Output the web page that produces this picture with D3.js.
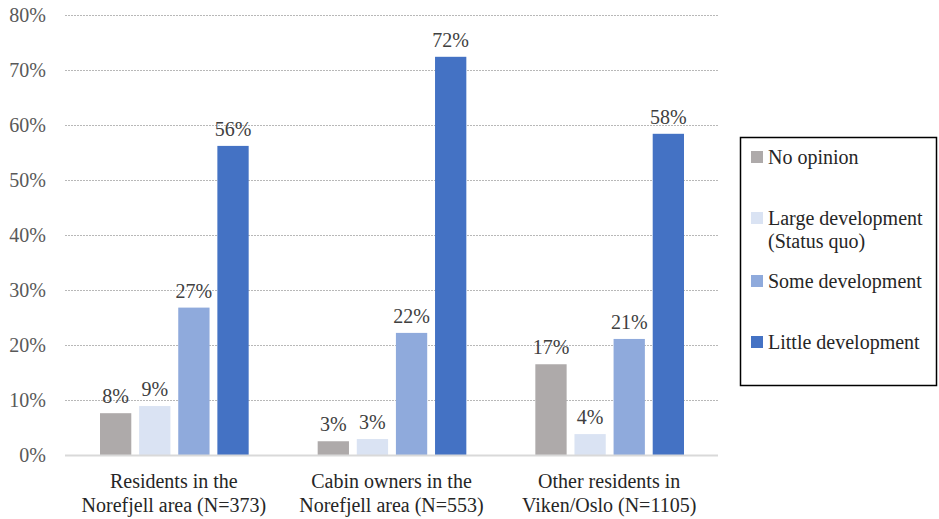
<!DOCTYPE html>
<html>
<head>
<meta charset="utf-8">
<script src="https://cdn.jsdelivr.net/npm/d3@7"></script>
<style>
  body { margin: 0; background: #fff; }
  svg text { font-family: "Liberation Serif", serif !important; }
</style>
</head>
<body>
<div id="chart"></div>
<script>

// categories (two lines each)
const groups = [
    ["Residents in the", "Norefjell area (N=373)"],
    ["Cabin owners in the", "Norefjell area (N=553)"],
    ["Other residents in", "Viken/Oslo (N=1105)"]
];
const seriesNames = ["No opinion", "Large development (Status quo)", "Some development", "Little development"];
const seriesColors = ["#aeaaaa", "#dae3f3", "#8faadc", "#4472c4"];

// values in percent, one array per series
const noOpinion = [7.6, 2.5, 16.5];
const largeDev = [8.9, 2.9, 3.8];
const someDev = [26.8, 22.2, 21.1];
const littleDev = [56.2, 72.4, 58.4];

const yTicks = [0, 10, 20, 30, 40, 50, 60, 70, 80];

const width = 939, height = 519;
const margin = {top: 15, right: 221, bottom: 64, left: 65};
const fontFam = "'Liberation Serif', serif";

const svg = d3.select("#chart").append("svg")
    .attr("width", width)
    .attr("height", height);

// helper so every label gets the serif face inline
function serif(sel) {
    return sel
        .attr("font-family", "Liberation Serif")
        .style("font-family", fontFam, "important")
        .style("font-size", "20px");
}

// scales
const x0 = d3.scaleBand()
    .domain(d3.range(groups.length))
    .range([margin.left, width - margin.right])
    .paddingInner(0)
    .paddingOuter(0);

const x1 = d3.scaleBand()
    .domain(d3.range(seriesNames.length))
    .range([35, x0.bandwidth() - 34])
    .paddingInner(0.2);

const y = d3.scaleLinear()
    .domain([0, 80])
    .range([height - margin.bottom, margin.top]);

// gridlines
svg.append("g")
    .selectAll("line")
    .data(yTicks.slice(1))
    .join("line")
    .attr("x1", margin.left)
    .attr("x2", width - margin.right)
    .attr("y1", d => y(d) + 0.5)
    .attr("y2", d => y(d) + 0.5)
    .attr("stroke", "#a6a6a6")
    .attr("stroke-width", 0.8)
    .attr("stroke-dasharray", "2,1");

// y axis labels
svg.append("g")
    .selectAll("text")
    .data(yTicks)
    .join("text")
    .attr("x", 46)
    .attr("y", d => y(d))
    .attr("dy", "0.35em")
    .attr("text-anchor", "end")
    .attr("fill", "#595959")
    .call(serif)
    .text(d => d + "%");

// bars
const allSeries = [noOpinion, largeDev, someDev, littleDev];
const barData = [];
groups.forEach((g, gi) => {
    allSeries.forEach((s, si) => {
        barData.push({g: gi, s: si, value: s[gi]});
    });
});

svg.append("g")
    .selectAll("rect")
    .data(barData)
    .join("rect")
    .attr("x", d => x0(d.g) + x1(d.s))
    .attr("y", d => y(d.value))
    .attr("width", x1.bandwidth())
    .attr("height", d => y(0) - y(d.value))
    .attr("fill", d => seriesColors[d.s]);

// value labels
svg.append("g")
    .selectAll("text")
    .data(barData)
    .join("text")
    .attr("x", d => x0(d.g) + x1(d.s) + x1.bandwidth() / 2)
    .attr("y", d => y(d.value) - 10)
    .attr("text-anchor", "middle")
    .attr("fill", "#404040")
    .call(serif)
    .text(d => Math.round(d.value) + "%");

// baseline
svg.append("line")
    .attr("x1", margin.left)
    .attr("x2", width - margin.right)
    .attr("y1", y(0) + 0.5)
    .attr("y2", y(0) + 0.5)
    .attr("stroke", "#d9d9d9")
    .attr("stroke-width", 2);

// category labels
groups.forEach((g, gi) => {
    g.forEach((line, j) => {
        svg.append("text")
            .attr("x", x0(gi) + x0.bandwidth() / 2)
            .attr("y", 488 + j * 24)
            .attr("text-anchor", "middle")
            .attr("fill", "#262626")
            .call(serif)
            .text(line);
    });
});

// legend
const legend = svg.append("g");
legend.append("rect")
    .attr("x", 740.5)
    .attr("y", 137.5)
    .attr("width", 196)
    .attr("height", 248)
    .attr("fill", "none")
    .attr("stroke", "#000")
    .attr("stroke-width", 1.5);

const legendRows = [
    {lines: ["No opinion"], y: 157},
    {lines: ["Large development", "(Status quo)"], y: 218},
    {lines: ["Some development"], y: 281},
    {lines: ["Little development"], y: 342}
];

legendRows.forEach((r, i) => {
    legend.append("rect")
        .attr("x", 751)
        .attr("y", r.y - 6)
        .attr("width", 12)
        .attr("height", 12)
        .attr("fill", seriesColors[i]);
    r.lines.forEach((l, j) => {
        legend.append("text")
            .attr("x", 768)
            .attr("y", r.y + j * 23)
            .attr("dy", "0.35em")
            .attr("fill", "#262626")
            .call(serif)
            .text(l);
    });
});

</script>
</body>
</html>
